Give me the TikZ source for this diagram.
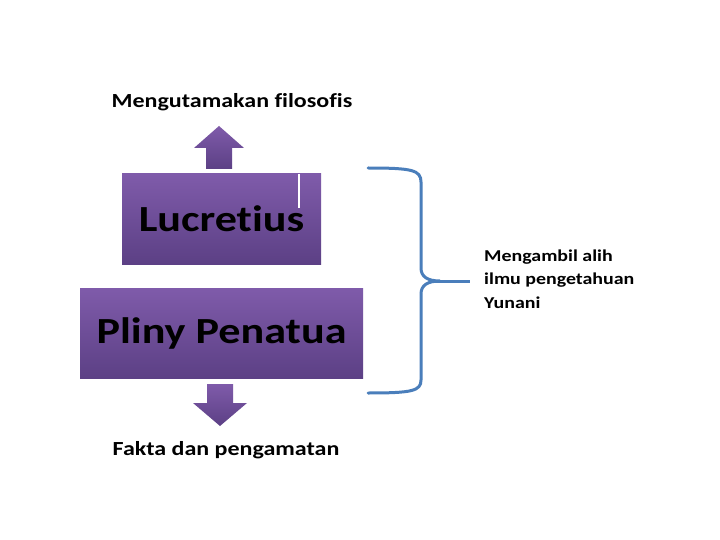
\documentclass[tikz,border=0pt]{standalone}
\usepackage{fontspec}
\setmainfont{Carlito}[Ligatures=NoCommon]
\newfontfamily\lebar{Carlito}[Ligatures=NoCommon,FakeStretch=1.2,UprightFont=*-Bold]
\usetikzlibrary{positioning}
\definecolor{ungutop}{HTML}{7F5BAA}
\definecolor{ungubot}{HTML}{5C4085}
\definecolor{kurung}{HTML}{4A7EBB}
\tikzset{
  kotak/.style={top color=ungutop,bottom color=ungubot,draw=none,inner sep=0pt,
    font=\lebar\fontsize{36.8}{40}\selectfont,text=black},
  panah/.style={top color=ungutop,bottom color=ungubot,draw=none},
  ket/.style={font=\lebar\fontsize{20}{22}\selectfont,text=black,inner sep=0pt}
}
\begin{document}
\begin{tikzpicture}[x=1pt,y=-1pt]
  \useasboundingbox[fill=white] (0,0) rectangle (720,540);
  % dua kotak ungu
  \node[kotak,minimum width=199pt,minimum height=90pt] (lucretius) at (221.5,219) {Lucretius};
  \node[kotak,minimum width=283pt,minimum height=90pt] (pliny) at (221.5,333) {Pliny Penatua};
  \draw[white,line width=1.2pt] (299,174)--(299,208);
  % panah ke atas dan ke bawah
  \def\xa{219}
  \path[panah] (\xa-13,169)--(\xa-13,148)--(\xa-25,148)--(\xa,126)--(\xa+25,148)
        --(\xa+13,148)--(\xa+13,169)--cycle;
  \path[panah] (\xa-12,384)--(\xa-12,403)--(\xa-26,403)--(\xa+1,426)--(\xa+28,403)
        --(\xa+14,403)--(\xa+14,384)--cycle;
  % keterangan atas dan bawah
  \node[ket] (filosofis) at (232,102) {Mengutamakan filosofis};
  \node[ket] (fakta) at (226,450) {Fakta dan pengamatan};
  % kurung kurawal biru
  \draw[kurung,line width=3pt,line cap=round]
    (368,168) .. controls (412,168) and (421,170) .. (421,182) -- (421,268)
    .. controls (421,277) and (428,281) .. (440,281)
    .. controls (428,281) and (421,285) .. (421,294) -- (421,380)
    .. controls (421,391) and (412,393) .. (368,393);
  \draw[kurung,line width=3pt] (434,281) -- (470,281);
  % keterangan kanan
  \node[ket,font=\lebar\fontsize{16.6}{23.5}\selectfont,align=left,anchor=west] (yunani) at (484,279)
    {Mengambil alih\\ilmu pengetahuan\\Yunani};
\end{tikzpicture}
\end{document}
